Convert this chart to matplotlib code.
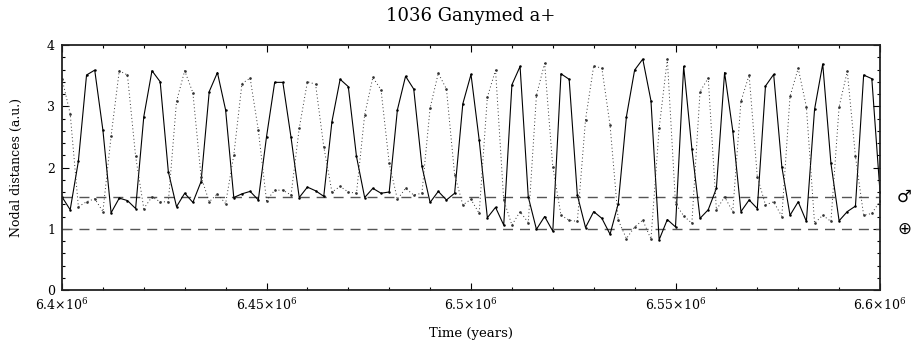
import numpy as np
import matplotlib
matplotlib.use("Agg")
import matplotlib.pyplot as plt
from matplotlib.ticker import MultipleLocator

# ---- data ----
time = np.linspace(6.4e6, 6.6e6, 101)

node_solid = [1.52, 1.31, 2.10, 3.51, 3.59, 2.61, 1.26, 1.50, 1.46, 1.33,
              2.83, 3.58, 3.40, 1.93, 1.36, 1.58, 1.43, 1.77, 3.24, 3.55,
              2.94, 1.51, 1.57, 1.61, 1.47, 2.50, 3.39, 3.39, 2.49, 1.51,
              1.68, 1.62, 1.53, 2.75, 3.44, 3.32, 2.18, 1.51, 1.66, 1.58,
              1.60, 2.94, 3.49, 3.28, 2.02, 1.43, 1.61, 1.47, 1.58, 3.04,
              3.52, 2.45, 1.18, 1.35, 1.06, 3.35, 3.65, 1.52, 0.99, 1.20,
              0.96, 3.53, 3.44, 1.55, 1.02, 1.28, 1.17, 0.91, 1.41, 2.83,
              3.59, 3.77, 3.09, 0.82, 1.15, 1.03, 3.65, 2.31, 1.17, 1.31,
              1.66, 3.55, 2.60, 1.28, 1.47, 1.33, 3.33, 3.52, 2.01, 1.22,
              1.44, 1.12, 2.95, 3.69, 2.07, 1.13, 1.28, 1.37, 3.51, 3.45,
              1.60]

node_dotted = [3.45, 2.88, 1.36, 1.44, 1.49, 1.28, 2.51, 3.58, 3.51, 2.18,
               1.33, 1.52, 1.44, 1.44, 3.08, 3.58, 3.22, 1.85, 1.44, 1.57,
               1.41, 2.20, 3.37, 3.46, 2.61, 1.46, 1.63, 1.63, 1.55, 2.64,
               3.40, 3.36, 2.34, 1.60, 1.69, 1.60, 1.58, 2.86, 3.47, 3.27,
               2.07, 1.48, 1.66, 1.55, 1.58, 2.97, 3.54, 3.28, 1.88, 1.39,
               1.48, 1.25, 3.15, 3.59, 1.47, 1.06, 1.28, 1.10, 3.18, 3.70,
               2.01, 1.22, 1.14, 1.12, 2.78, 3.66, 3.62, 2.69, 1.14, 0.84,
               1.03, 1.14, 0.83, 2.64, 3.77, 1.41, 1.21, 1.09, 3.24, 3.46,
               1.31, 1.52, 1.28, 3.08, 3.51, 1.85, 1.39, 1.44, 1.20, 3.16,
               3.62, 2.99, 1.09, 1.22, 1.12, 2.99, 3.57, 2.18, 1.22, 1.25,
               1.45]

mars_a = 1.52
earth_a = 1.0
xticks = [6.4e6, 6.45e6, 6.5e6, 6.55e6, 6.6e6]
xticklabels = ["6.4×10$^{6}$", "6.45×10$^{6}$", "6.5×10$^{6}$",
               "6.55×10$^{6}$", "6.6×10$^{6}$"]
yticks = [0, 1, 2, 3, 4]

# ---- plot ----
plt.rcParams['font.family'] = ['DejaVu Serif', 'DejaVu Sans']
plt.rcParams['mathtext.fontset'] = 'dejavuserif'

fig = plt.figure(figsize=(9.16, 3.48), dpi=100)
ax = fig.add_axes([62/916, 58/348, 818/916, 245/348])

ax.axhline(mars_a, color='#555555', lw=1.0, dashes=(7.2, 5))
ax.axhline(earth_a, color='#555555', lw=1.0, dashes=(7.2, 5))

ax.plot(time, node_solid, color='black', lw=0.8, marker='.', ms=1.6)
ax.plot(time, node_dotted, color='#333333', lw=0.7, linestyle=(0, (1, 2.6)),
        marker='.', ms=1.8)

ax.set_xlim(6.4e6, 6.6e6)
ax.set_ylim(0, 4)
ax.set_xticks(xticks)
ax.set_xticklabels(xticklabels, fontsize=9)
ax.set_yticks(yticks)
ax.set_yticklabels([str(v) for v in yticks], fontsize=9)
ax.xaxis.set_minor_locator(MultipleLocator(0.01e6))
ax.yaxis.set_minor_locator(MultipleLocator(0.2))
ax.tick_params(which='both', direction='in', top=True, right=True, width=0.8)
ax.tick_params(which='major', length=5)
ax.tick_params(axis='x', which='major', pad=5)
ax.tick_params(axis='y', which='major', pad=5)
ax.tick_params(which='minor', length=2.5)
for s in ax.spines.values():
    s.set_linewidth(1.3)
    s.set_color('#222222')

ax.set_title("1036 Ganymed a+", fontsize=13, pad=17)
ax.set_xlabel("Time (years)", fontsize=9.5, labelpad=10)
ax.set_ylabel("Nodal distances (a.u.)", fontsize=9, labelpad=17)

ax.text(1.03, mars_a, "♂", transform=ax.get_yaxis_transform(), fontsize=12,
        va='center', ha='center', family=['DejaVu Sans'])
ax.text(1.03, earth_a, "⊕", transform=ax.get_yaxis_transform(), fontsize=12,
        va='center', ha='center', family=['DejaVu Sans'])

fig.savefig("out.png", dpi=100)
